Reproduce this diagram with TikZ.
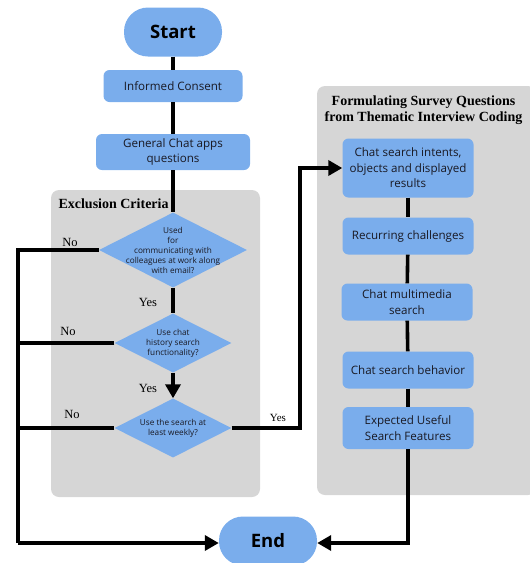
\documentclass[tikz,border=0pt]{standalone}
\usepackage{fontspec}
\setmainfont{Liberation Serif}
\setsansfont{Open Sans}
\usetikzlibrary{shapes.geometric,arrows.meta}
\definecolor{boxblue}{RGB}{122,173,236}
\definecolor{panelgray}{RGB}{214,214,214}
\definecolor{txt}{RGB}{25,25,35}
\begin{document}
\begin{tikzpicture}[x=1pt,y=-1pt,
  flow/.style={line width=3.6pt},
  arr/.style={flow,-{Triangle[length=14pt,width=15pt]}},
  panel/.style={fill=panelgray,draw=none,rounded corners=8pt},
  box/.style={fill=boxblue,rounded corners=6pt,inner sep=0pt,align=center,
    text=txt,font=\sffamily\fontsize{11.6}{15.5}\selectfont},
  term/.style={fill=boxblue,rounded corners=24pt,inner sep=0pt,
    font=\sffamily\bfseries\fontsize{18.5}{20}\selectfont,minimum width=98pt,minimum height=49pt},
  dia/.style={diamond,fill=boxblue,inner sep=0pt},
  dtext/.style={align=center,text=txt,font=\sffamily\fontsize{8.2}{10}\selectfont},
  ptitle/.style={font=\bfseries\fontsize{14}{16}\selectfont,align=center},
  lab/.style={font=\fontsize{12.5}{14}\selectfont}]
\useasboundingbox (0,0) rectangle (530,563);
% panels
\path[panel] (51,190) rectangle (260,497);
\path[panel] (317,86) rectangle (536,495);
\node[ptitle,anchor=west] (ect) at (55,204) {Exclusion Criteria};
\node[ptitle] (fst) at (423.5,110) {Formulating Survey Questions\\from Thematic Interview Coding};
% left column
\node[term] (start) at (173,32) {Start};
\node[box,minimum width=139pt,minimum height=32pt] (ic) at (173,86) {Informed Consent};
\node[box,minimum width=154pt,minimum height=36pt] (gc) at (173,152) {General Chat apps\\questions};
\node[dia,minimum width=148pt,minimum height=75pt,
  label={[dtext]center:Used\\for\\communicating with\\colleagues at work along\\with email?}] (d1) at (173,250) {};
\node[dia,minimum width=117pt,minimum height=59pt,
  label={[dtext]center:Use chat\\history search\\functionality?}] (d2) at (173,343) {};
\node[dia,minimum width=117pt,minimum height=59pt,
  label={[dtext]center:Use the search at\\least weekly?}] (d3) at (173,428) {};
\node[term] (endn) at (268,541) {End};
% right column
\node[box,minimum width=131pt,minimum height=59pt] (a) at (408,168) {Chat search intents,\\objects and displayed\\results};
\node[box,minimum width=131pt,minimum height=37pt] (b) at (408,236) {Recurring challenges};
\node[box,minimum width=131pt,minimum height=37pt] (c) at (407,302) {Chat multimedia\\search};
\node[box,minimum width=131pt,minimum height=37pt] (d) at (408,370) {Chat search behavior};
\node[box,minimum width=131pt,minimum height=42pt] (e) at (408,428) {Expected Useful\\Search Features};
% coordinates
\coordinate (l1) at (18,250);
\coordinate (l2) at (18,343);
\coordinate (l3) at (18,428);
\coordinate (lend) at (18,543);
\coordinate (r1) at (300,428);
% connectors
\draw[flow] (start) -- (ic);
\draw[flow] (ic) -- (gc);
\draw[flow] (gc) -- (d1);
\draw[flow] (d1) -- (d2);
\draw[arr] (d2) -- (d3);
\draw[flow] (d1.west) -- (l1) -- (lend);
\draw[flow] (d2.west) -- (l2);
\draw[flow] (d3.west) -- (l3);
\draw[arr] (lend) -- (endn.west |- lend);
\draw[arr] (d3.east) -- (r1) |- (a.west);
\draw[flow] (a) -- (b);
\draw[flow] (b) -- (c);
\draw[flow] (c) -- (d);
\draw[flow] (d) -- (e);
\draw[arr] (e.south) |- (endn.east |- lend);
% labels
\node[lab] (no1) at (70,242) {No};
\node[lab] (no2) at (68,331) {No};
\node[lab] (no3) at (72,414) {No};
\node[lab] (y1) at (148,302) {Yes};
\node[lab] (y2) at (148,388) {Yes};
\node[lab,font=\fontsize{11}{13}\selectfont] (y3) at (278,418) {Yes};
\end{tikzpicture}
\end{document}
